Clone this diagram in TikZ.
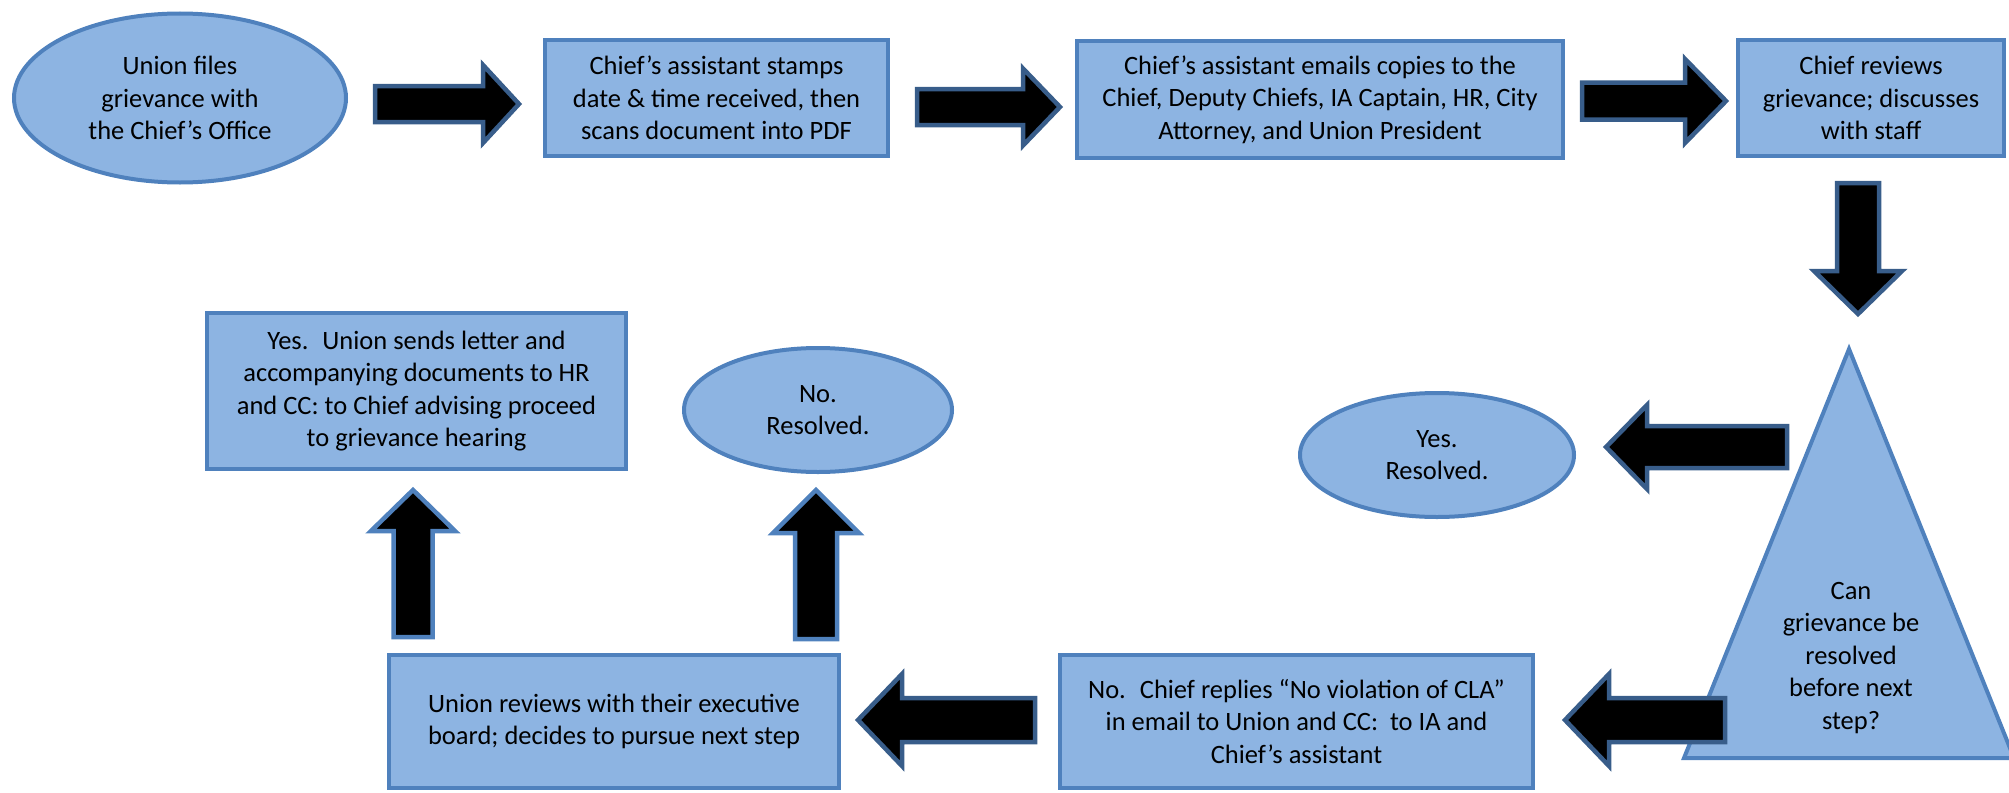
\documentclass[tikz,border=0pt]{standalone}
\usepackage{fontspec}
\setmainfont{Carlito}
\usetikzlibrary{calc,shapes.geometric}

\definecolor{boxfill}{RGB}{141,180,226}
\definecolor{boxedge}{RGB}{79,129,189}
\definecolor{arrowdark}{RGB}{56,93,138}
\newcommand{\stepfont}{\fontsize{26.5pt}{32.5pt}\selectfont}

\begin{document}
\begin{tikzpicture}
  [x=1pt, y=-1pt,
  process/.style={rectangle, draw=boxedge, fill=boxfill,
    line width=4pt, inner sep=0pt, align=center, font=\stepfont},
  oval/.style={ellipse, draw=boxedge, fill=boxfill,
    line width=4pt, inner sep=0pt, align=center, font=\stepfont},
  fatarrow/.style n args={4}{draw=#4, fill=black, line width=4.5pt,
    to path={let \p1=(\tikztostart), \p2=(\tikztotarget),
      \n1={atan2(\y2-\y1,\x2-\x1)}, \n2={veclen(\x2-\x1,\y2-\y1)-#3} in
      ($(\p1)+({\n1+90}:#1)$) -- ($(\p1)+(\n1:\n2)+({\n1+90}:#1)$)
      -- ($(\p1)+(\n1:\n2)+({\n1+90}:#2)$) -- (\p2)
      -- ($(\p1)+(\n1:\n2)+({\n1-90}:#2)$) -- ($(\p1)+(\n1:\n2)+({\n1-90}:#1)$)
      -- ($(\p1)+({\n1-90}:#1)$) -- cycle}}]

  \useasboundingbox (0,0) rectangle (2009,792);

  \node[oval, minimum width=332, minimum height=169] (union) at (180,98)
    {Union files\\grievance with\\the Chief’s Office};
  \node[process, minimum width=343, minimum height=116] (stamp) at (716.5,98)
    {Chief’s assistant stamps\\date \& time received, then\\scans document into PDF};
  \node[process, minimum width=486, minimum height=117] (emails) at (1320,99.5)
    {Chief’s assistant emails copies to the\\Chief, Deputy Chiefs, IA Captain, HR, City\\Attorney, and Union President};
  \node[process, minimum width=266, minimum height=116] (review) at (1871,98)
    {Chief reviews\\grievance; discusses\\with staff};

  % decision triangle
  \coordinate (apex) at (1849,349);
  \coordinate (baseleft) at (1684,758);
  \coordinate (baseright) at (2014,758);
  \draw[draw=boxedge, fill=boxfill, line width=4pt] (apex) -- (baseleft) -- (baseright) -- cycle;
  \node[align=center, font=\stepfont] (decide) at (1851,658)
    {Can\\grievance be\\resolved\\before next\\step?};

  \node[oval, minimum width=274, minimum height=124] (yesres) at (1437,455)
    {Yes.\\Resolved.};
  \node[process, minimum width=419, minimum height=156] (letter) at (416.5,391)
    {Yes.~ Union sends letter and\\accompanying documents to HR\\and CC: to Chief advising proceed\\to grievance hearing};
  \node[oval, minimum width=268, minimum height=124] (noresolve) at (818,410)
    {No.\\Resolved.};
  \node[process, minimum width=450, minimum height=133] (board) at (614,721.5)
    {Union reviews with their executive\\board; decides to pursue next step};
  \node[process, minimum width=473, minimum height=133] (noreply) at (1296.5,721.5)
    {No.~ Chief replies “No violation of CLA”\\in email to Union and CC:~ to IA and\\Chief’s assistant};

  \draw[fatarrow={18pt}{39pt}{36pt}{arrowdark}] ($(union.east)+(27,6)$) to ($(stamp.west)+(-24,6)$);
  \draw[fatarrow={18pt}{38.5pt}{37pt}{arrowdark}] ($(stamp.east)+(27,9)$) to ($(emails.west)+(-15,7.5)$);
  \draw[fatarrow={18.5pt}{42pt}{41pt}{arrowdark}] ($(emails.east)+(17,1.5)$) to ($(review.west)+(-10,3)$);
  \draw[fatarrow={21pt}{44pt}{43pt}{arrowdark}] ($(review.south)+(-13,25)$) to ($(apex)+(9,-35)$);
  \draw[fatarrow={21pt}{42pt}{41pt}{arrowdark}] ($(apex)+(-62,98)$) to ($(yesres.east)+(30,-8)$);
  \draw[fatarrow={22pt}{46pt}{44pt}{arrowdark}] ($(baseleft)+(41,-38)$) to ($(noreply.east)+(30,-1.5)$);
  \draw[fatarrow={22pt}{46pt}{44pt}{arrowdark}] ($(noreply.west)+(-23,-1.5)$) to ($(board.east)+(17,-1.5)$);
  \draw[fatarrow={19.5pt}{42pt}{41pt}{boxedge}] ($(letter.south |- board.north)+(-3.5,-16)$) to ($(letter.south)+(-3.5,19)$);
  \draw[fatarrow={21pt}{43pt}{43pt}{boxedge}] ($(noresolve.south |- board.north)+(-2,-14)$) to ($(noresolve.south)+(-2,16)$);

\end{tikzpicture}
\end{document}
